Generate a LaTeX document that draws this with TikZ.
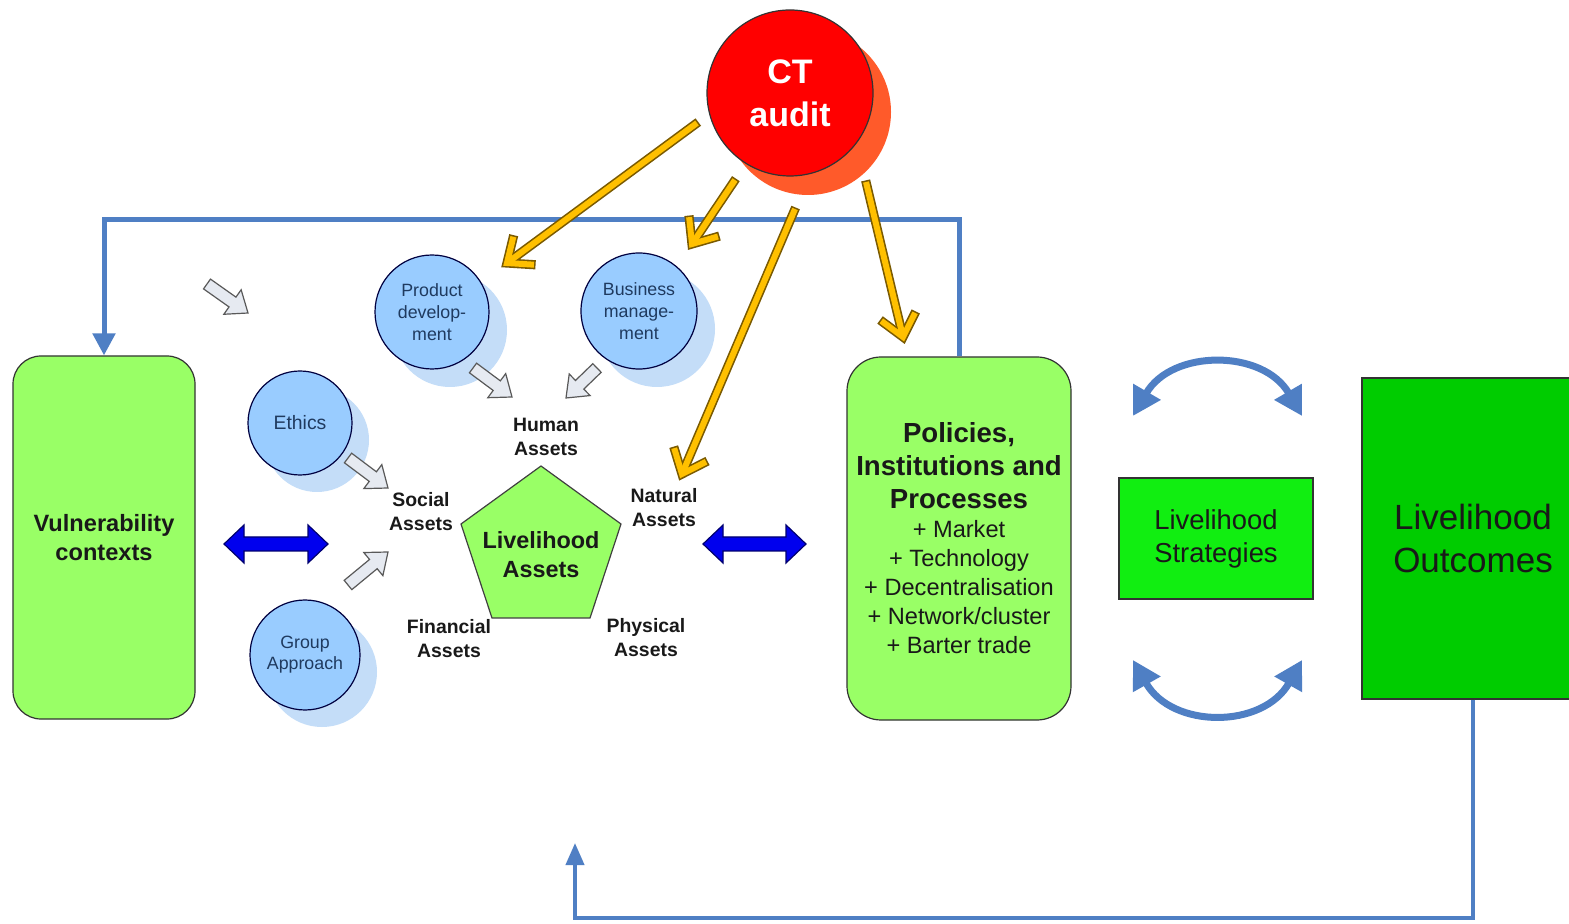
\documentclass[tikz,border=0pt]{standalone}
\usepackage{fontspec}
\setmainfont{Liberation Sans}
\usetikzlibrary{arrows.meta,calc}

\definecolor{boxgreen}{HTML}{99FF66}
\definecolor{stratgreen}{HTML}{11EE11}
\definecolor{outgreen}{HTML}{00CC00}
\definecolor{fbblue}{HTML}{4F7FC4}
\definecolor{dblblue}{HTML}{0000EE}
\definecolor{dbledge}{HTML}{000070}
\definecolor{circblue}{HTML}{99CCFF}
\definecolor{circshade}{HTML}{C4DDF8}
\definecolor{circtext}{HTML}{1F3A5F}
\definecolor{ctred}{HTML}{FF0000}
\definecolor{ctshade}{HTML}{FF5A2A}
\definecolor{gold}{HTML}{FFC000}
\definecolor{goldedge}{HTML}{7A5A00}
\definecolor{hollowfill}{HTML}{E6EAF1}

% yellow open-headed arrow: shaft plus chevron, outlined
\newcommand\ctarrow[2]{%
  \coordinate (ya-l) at ($(#2)!13.5pt!40:(#1)$);
  \coordinate (ya-r) at ($(#2)!13.5pt!-40:(#1)$);
  \draw[yelout, shorten <=-0.8pt] (#1) -- (#2);
  \draw[yelout, shorten <=-0.8pt, shorten >=-0.8pt] (ya-l) -- (#2) -- (ya-r);
  \draw[yelin] (#1) -- (#2);
  \draw[yelin] (ya-l) -- (#2) -- (ya-r);
}
% light grey hollow block arrow from tail to tip
\newcommand\hollowarrow[2]{%
  \coordinate (ha-b) at ($(#2)!9.5pt!(#1)$);
  \draw[grayarr] ($(#1)!3pt!90:(#2)$) -- ($(ha-b)!3pt!90:(#2)$)
    -- ($(ha-b)!7.5pt!90:(#2)$) -- (#2) -- ($(ha-b)!7.5pt!-90:(#2)$)
    -- ($(ha-b)!3pt!-90:(#2)$) -- ($(#1)!3pt!-90:(#2)$) -- cycle;
}
% blue two-headed block arrow between two tips
\newcommand\blockdbl[2]{%
  \coordinate (bd-a) at ($(#1)!10pt!(#2)$);
  \coordinate (bd-b) at ($(#2)!10pt!(#1)$);
  \draw[blockarr] (#1) -- ($(bd-a)!9.5pt!90:(#2)$) -- ($(bd-a)!3.5pt!90:(#2)$)
    -- ($(bd-b)!3.5pt!-90:(#1)$) -- ($(bd-b)!9.5pt!-90:(#1)$) -- (#2)
    -- ($(bd-b)!9.5pt!90:(#1)$) -- ($(bd-b)!3.5pt!90:(#1)$)
    -- ($(bd-a)!3.5pt!-90:(#2)$) -- ($(bd-a)!9.5pt!-90:(#2)$) -- cycle;
}

\begin{document}
\begin{tikzpicture}[x=0.5pt,y=-0.5pt,
  vbox/.style={draw=black!80, line width=0.6pt, fill=boxgreen, rounded corners=14pt,
    inner sep=0pt, align=center, minimum width=91pt, minimum height=181.5pt,
    text=black!90, font=\bfseries\fontsize{11.8}{14.5}\selectfont},
  pbox/.style={draw=black!80, line width=0.6pt, fill=boxgreen, rounded corners=17pt,
    inner sep=0pt, minimum width=112pt, minimum height=181.5pt, text=black!90},
  sbox/.style={draw=black!80, line width=0.6pt, fill=stratgreen, inner sep=0pt,
    align=center, minimum width=97pt, minimum height=60.5pt, text=black!90,
    font=\fontsize{13.7}{16.5}\selectfont},
  obox/.style={draw=black!80, line width=0.6pt, fill=outgreen, inner sep=0pt,
    align=center, minimum width=111pt, minimum height=160.5pt, text=black!90,
    font=\fontsize{17.5}{21.5}\selectfont},
  circ/.style={circle, draw=black!75!blue, line width=0.6pt, fill=circblue, inner sep=0pt,
    align=center, text=circtext, font=\fontsize{8.9}{11}\selectfont},
  ctnode/.style={circle, draw=black!80, line width=0.6pt, fill=ctred, inner sep=0pt,
    minimum size=83pt, align=center, text=white,
    font=\bfseries\fontsize{17}{21.5}\selectfont},
  pentashape/.style={draw=black!75, line width=0.6pt, fill=boxgreen, line join=miter},
  pentatext/.style={align=center, inner sep=0pt, text=black!90,
    font=\bfseries\fontsize{11.7}{14.5}\selectfont},
  asset/.style={align=center, inner sep=0pt, text=black!90,
    font=\bfseries\fontsize{9.7}{12}\selectfont},
  fbtop/.style={draw=fbblue, line width=2.5pt, -{Triangle[length=11pt,width=11pt]}},
  fbbot/.style={draw=fbblue, line width=2pt, -{Triangle[length=11pt,width=9pt]}},
  cyclearrow/.style={draw=fbblue, line width=3.5pt,
    {Triangle[length=14pt,width=15pt]}-{Triangle[length=14pt,width=15pt]}},
  yelout/.style={draw=goldedge, line width=4.6pt, line join=miter},
  yelin/.style={draw=gold, line width=3pt, line join=miter},
  grayarr/.style={fill=hollowfill, draw=black!65, line width=0.6pt, line join=miter},
  blockarr/.style={fill=dblblue, draw=dbledge, line width=0.6pt, line join=miter}]

\fill[white] (0,0) rectangle (1569,924);
\clip (0,0) rectangle (1569,924);

% main boxes
\node[vbox] (vul) at (104,537.5) {Vulnerability\\contexts};
\node[pbox] (pol) at (959,538.5) {\begin{minipage}{110pt}\centering\parindent=0pt
  \fontsize{13.8}{16.5}\selectfont\bfseries Policies,\\Institutions and\\Processes\par
  \fontsize{11.8}{14.5}\selectfont\mdseries + Market\\+ Technology\\+ Decentralisation\\+ Network/cluster\\+ Barter trade\end{minipage}};
\node[sbox] (str) at (1216,538.5) {Livelihood\\Strategies};
\node[obox] (out) at (1473,538.5) {Livelihood\\Outcomes};

% feedback loops
\coordinate (topline) at (0,220);
\draw[fbtop] (pol.north) -- (pol.north |- topline) -| (vul.north);
\coordinate (botline) at (0,918);
\coordinate (fbend) at (575,843);
\draw[fbbot] (out.south) -- (out.south |- botline) -- (fbend |- botline) -- (fbend);

% two-way arcs around the strategies
\coordinate (arcA1) at (1133,416);
\coordinate (arcA2) at (1302,416);
\coordinate (arcB1) at (1133,660);
\coordinate (arcB2) at (1302,660);
\draw[cyclearrow] (arcA1) .. controls (1172,349) and (1263,349) .. (arcA2);
\draw[cyclearrow] (arcB1) .. controls (1172,729) and (1263,729) .. (arcB2);

% livelihood assets pentagon and its five labels
\draw[pentashape] (541,466) -- (621,524) -- (590,618) -- (492,618) -- (461,524) -- cycle;
\node[pentatext] (la) at (541,555) {Livelihood\\Assets};
\node[asset] (human) at (546,437) {Human\\Assets};
\node[asset] (social) at (421,511.5) {Social\\Assets};
\node[asset] (natural) at (664,508) {Natural\\Assets};
\node[asset] (financial) at (449,639) {Financial\\Assets};
\node[asset] (physical) at (646,638) {Physical\\Assets};

% blue two-way block arrows
\coordinate (dA1) at (224,544);
\coordinate (dA2) at (328,544);
\coordinate (dB1) at (703,544);
\coordinate (dB2) at (806,544);
\blockdbl{dA1}{dA2}
\blockdbl{dB1}{dB2}

% light blue interventions with soft shadows
\fill[circshade] (450,330) circle[radius=28.5pt];
\fill[circshade] (657,329) circle[radius=29pt];
\fill[circshade] (317,440) circle[radius=26pt];
\fill[circshade] (322,672) circle[radius=27.5pt];
\node[circ, minimum size=57pt] (pd) at (432,312) {Product\\develop-\\ment};
\node[circ, minimum size=58pt] (bm) at (639,311) {Business\\manage-\\ment};
\node[circ, minimum size=52pt, font=\fontsize{9.7}{11}\selectfont] (eth) at (300,423) {Ethics};
\node[circ, minimum size=55pt, font=\fontsize{8.9}{10.5}\selectfont] (grp) at (305,655) {Group\\Approach};

% grey hollow arrows
\hollowarrow{207,284}{248,313}
\hollowarrow{473,368}{512,397}
\hollowarrow{597,368}{566,398}
\hollowarrow{348,458}{388,488}
\hollowarrow{348,585}{388,552}

% CT audit
\fill[ctshade] (808,112) circle[radius=41.5pt];
\node[ctnode] (ct) at (790,93) {CT\\audit};

% audit arrows
\coordinate (ys1) at (697,123);
\coordinate (yt1) at (507,263);
\coordinate (ys2) at (735,180);
\coordinate (yt2) at (692,244);
\coordinate (ys3) at (795,209);
\coordinate (yt3) at (682,474);
\coordinate (ys4) at (866,182);
\coordinate (yt4) at (903,337);
\ctarrow{ys1}{yt1}
\ctarrow{ys2}{yt2}
\ctarrow{ys3}{yt3}
\ctarrow{ys4}{yt4}
\end{tikzpicture}
\end{document}
